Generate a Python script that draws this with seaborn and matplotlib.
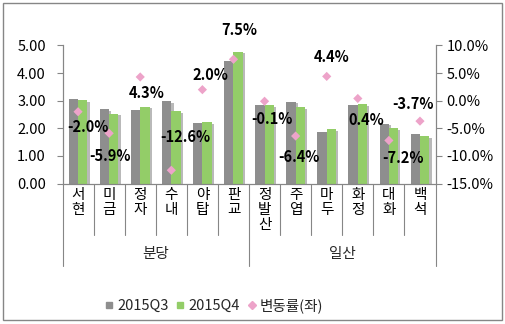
import numpy as np
import pandas as pd
import matplotlib
matplotlib.use("Agg")
import matplotlib.pyplot as plt
import matplotlib.patheffects as pe
from matplotlib.lines import Line2D
from matplotlib.patches import Rectangle
from matplotlib.ticker import FuncFormatter, MultipleLocator
import seaborn as sns

# ---- data -------------------------------------------------------------
regions = ["서현", "미금", "정자", "수내", "야탑", "판교",
           "정발산", "주엽", "마두", "화정", "대화", "백석"]
groups = ["분당", "일산"]
group_sizes = [6, 6]
q3_values = [3.07, 2.69, 2.67, 2.98, 2.18, 4.45, 2.86, 2.96, 1.88, 2.86, 2.17, 1.79]
q4_values = [3.01, 2.53, 2.78, 2.61, 2.23, 4.78, 2.85, 2.77, 1.96, 2.87, 2.01, 1.72]
change_pct = [-2.0, -5.9, 4.3, -12.6, 2.0, 7.5, -0.1, -6.4, 4.4, 0.4, -7.2, -3.7]
series_names = ["2015Q3", "2015Q4", "변동률(좌)"]

# label offsets from each marker, in pixels (right, up)
label_offsets = [(10, -15), (1, -23), (6, -16), (14, 33), (8, 15), (6, 29),
                 (7.5, -18), (3.5, -21), (4.5, 19.5), (8, -21.5), (14, -17.5), (-7, 17)]

GRAY = "#8e8e8e"
GREEN = "#93cd68"
PINK = "#eda3c9"
AXIS = "#868686"

sns.set_theme(style="white")
plt.rcParams["font.family"] = ["Noto Sans CJK KR", "DejaVu Sans"]

df = pd.DataFrame({
    "region": regions * 2,
    "period": [series_names[0]] * len(regions) + [series_names[1]] * len(regions),
    "value": q3_values + q4_values,
})

fig = plt.figure(figsize=(5.05, 3.24), dpi=100)
ax = fig.add_axes([0.1238, 0.4336, 0.7386, 0.426])

sns.barplot(data=df, x="region", y="value", hue="period", order=regions,
            palette=[GRAY, GREEN], width=0.6, saturation=1, legend=False,
            errorbar=None, ax=ax)
for bar in ax.patches:
    bar.set_edgecolor("none")
    bar.set_path_effects([pe.SimplePatchShadow(offset=(1.6, -1.2), alpha=0.3,
                                               shadow_rgbFace="k"), pe.Normal()])

ax.set_ylim(0, 5)
ax.set_xlim(-0.5, len(regions) - 0.5)
ax.yaxis.set_major_locator(MultipleLocator(1))
ax.yaxis.set_major_formatter(FuncFormatter(lambda v, _: f"{v:.2f}"))
ax.set_xlabel("")
ax.set_ylabel("")
ax.set_xticks(range(len(regions)))
ax.set_xticklabels(["\n".join(r) for r in regions], linespacing=1.12)
ax.tick_params(axis="x", length=0, pad=3, labelsize=10.5, colors="black")
ax.tick_params(axis="y", length=4, width=0.8, color=AXIS, pad=8,
               labelsize=10.5, labelcolor="black", left=True)

# change rate on the secondary axis
ax2 = ax.twinx()
x_pos = np.arange(len(regions))
sns.scatterplot(x=x_pos, y=change_pct, marker="D", color=PINK, s=22,
                edgecolor="none", ax=ax2, legend=False, zorder=5)
ax2.set_ylim(-15, 10)
ax2.set_xlim(-0.5, len(regions) - 0.5)
ax2.yaxis.set_major_locator(MultipleLocator(5))
ax2.yaxis.set_major_formatter(FuncFormatter(lambda v, _: f"{v:.1f}%"))
ax2.tick_params(axis="y", length=4, width=0.8, color=AXIS, pad=4,
                labelsize=10.5, labelcolor="black", right=True)
ax2.set_ylabel("")

for i, (p, (dx, dy)) in enumerate(zip(change_pct, label_offsets)):
    ax2.annotate(f"{p:.1f}%", (x_pos[i], p), xytext=(dx * 0.72, dy * 0.72),
                 textcoords="offset points", ha="center", va="center",
                 fontsize=10.5, fontweight="bold", color="black", zorder=6)

for a in (ax, ax2):
    a.spines["top"].set_visible(False)
    for s in ("left", "right", "bottom"):
        a.spines[s].set_color(AXIS)
        a.spines[s].set_linewidth(0.8)

# category separators and group labels below the axis
trans = ax.get_xaxis_transform()
boundaries = np.cumsum([0] + group_sizes) - 0.5
for k in range(len(regions) + 1):
    xb = k - 0.5
    depth = -0.60 if xb in boundaries else -0.373
    ax.plot([xb, xb], [0, depth], transform=trans, color=AXIS, lw=0.8,
            clip_on=False)
for g, start, size in zip(groups, boundaries[:-1], group_sizes):
    ax.text(start + size / 2, -0.51, g, transform=trans, ha="center",
            va="center", fontsize=10.5)

handles = [
    Line2D([], [], marker="s", ls="none", color=GRAY, markersize=5),
    Line2D([], [], marker="s", ls="none", color=GREEN, markersize=5),
    Line2D([], [], marker="D", ls="none", color=PINK, markersize=4.5),
]
fig.legend(handles, series_names, loc="center", bbox_to_anchor=(0.424, 0.056),
           ncol=3, frameon=False, fontsize=10.5, handlelength=0.6,
           handletextpad=0.25, columnspacing=0.5, borderpad=0)

# outer chart frame
fig.patches.append(Rectangle((3 / 505, 4 / 324), 499 / 505, 317 / 324,
                             transform=fig.transFigure, fill=False,
                             edgecolor=AXIS, lw=1.0))

fig.savefig("out.png", dpi=100)
